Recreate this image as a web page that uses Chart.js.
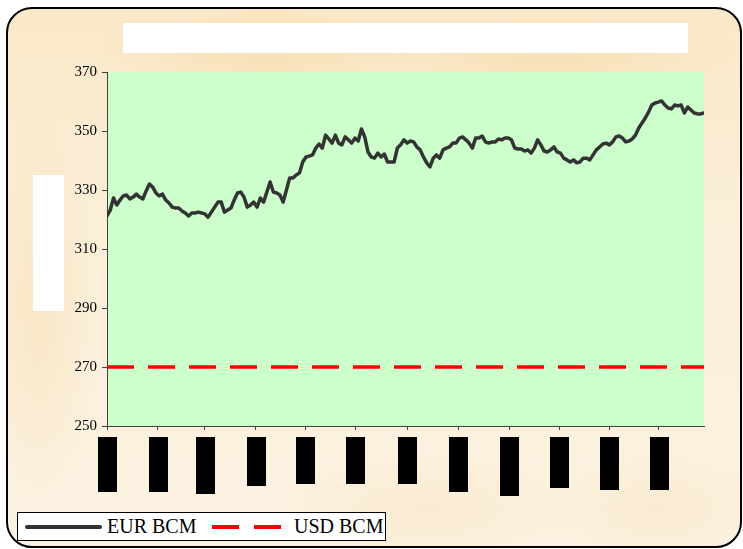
<!DOCTYPE html>
<html>
<head>
<meta charset="utf-8">
<script src="https://cdn.jsdelivr.net/npm/chart.js@4"></script>
<style>
  html, body { margin: 0; padding: 0; background: #ffffff; }
  body { width: 743px; height: 549px; position: relative; overflow: hidden; }
  #frame {
    position: absolute; left: 6px; top: 7px; width: 736px; height: 541px;
    box-sizing: border-box; border: 2px solid #000; border-radius: 26px;
    background:
      radial-gradient(ellipse 170px 45px at 260px 40px, rgba(246,214,158,0.55), rgba(246,214,158,0)),
      radial-gradient(ellipse 200px 45px at 540px 45px, rgba(246,214,158,0.5), rgba(246,214,158,0)),
      radial-gradient(ellipse 60px 200px at 30px 300px, rgba(246,218,170,0.45), rgba(246,218,170,0)),
      radial-gradient(ellipse 160px 60px at 420px 500px, rgba(246,222,178,0.35), rgba(246,222,178,0)),
      radial-gradient(ellipse 120px 60px at 650px 500px, rgba(246,222,178,0.35), rgba(246,222,178,0)),
      linear-gradient(#FAE8C8, #FBEFD9 40%, #FCF2E2);
  }
  #titleBox { position: absolute; left: 123px; top: 23px; width: 565px; height: 30px; background: #fff; }
  #yTitleBox { position: absolute; left: 33px; top: 175px; width: 31px; height: 136px; background: #fff; }
  #chartWrap { position: absolute; left: 0; top: 0; width: 743px; height: 549px; }
  #legend {
    position: absolute; left: 17px; top: 512px; width: 369px; height: 29px;
    box-sizing: border-box; border: 1px solid #000; background: #fff;
    font-family: "Liberation Serif", "Times New Roman", serif; font-size: 20px; line-height: 20px; color: #000;
  }
  #legend .txt { position: absolute; top: 3px; white-space: nowrap; }
  #legend .sw { position: absolute; top: 12px; height: 4px; }
</style>
</head>
<body>
<div id="frame"></div>
<div id="titleBox"></div>
<div id="yTitleBox"></div>
<div id="chartWrap"><canvas id="c" width="743" height="549"></canvas></div>
<div id="legend"></div>
<script>
// ---- data ----
const seriesNames = ['EUR BCM', 'USD BCM'];
const eurValues = [
  321.2, 323.2, 327.3, 324.9, 326.6, 328.0, 328.3, 327.0, 327.6, 328.6,
  327.6, 327.0, 329.7, 332.0, 331.0, 329.0, 328.0, 328.6, 326.6, 325.6,
  324.2, 323.9, 323.9, 322.9, 322.2, 321.2, 322.2, 322.2, 322.5, 322.2,
  321.9, 320.8, 322.5, 324.2,
  325.9, 325.9, 322.5, 323.2, 323.9, 326.6, 329.0, 329.3, 327.6, 324.2,
  324.9, 325.9, 324.2, 327.3, 325.9, 329.3, 332.7, 329.3, 329.0, 328.3,
  325.9, 330.0, 334.1, 334.1, 335.1, 335.8, 339.5, 341.2,
  341.5, 341.9, 344.2, 345.6, 344.2, 348.6, 347.3, 345.9, 348.6, 345.9,
  345.3, 348.0, 347.0, 345.9, 347.6, 346.6, 350.7, 348.0, 342.9, 341.2,
  340.8, 342.5, 341.2, 342.2, 339.5, 339.5, 339.5, 344.2,
  345.3, 347.0, 345.9, 346.6, 346.3, 344.6, 343.6, 341.2, 339.2, 337.8,
  340.8, 341.9, 340.8, 343.6, 344.2, 344.6, 345.9, 345.9, 347.6, 348.0,
  347.0, 345.9, 344.2, 347.6, 347.6, 348.3, 346.3, 345.9, 346.3, 346.3,
  347.3,
  347.0, 347.6, 347.6, 347.0, 344.2, 343.9, 343.9, 343.2, 343.6, 342.5,
  344.2, 347.0, 345.3, 343.2, 342.9, 343.6, 344.6, 342.9, 342.5, 340.8,
  340.2, 339.5, 340.2, 339.2, 339.5, 340.8, 340.8, 340.2, 341.9, 343.6,
  344.6, 345.6, 345.9, 345.3, 346.3, 348.0, 348.3, 347.6, 346.3, 346.6,
  347.3, 348.6, 351.0, 352.7, 354.4, 356.4, 358.8, 359.5, 359.8, 360.2,
  358.8, 357.8, 357.5, 358.8, 358.5, 358.8, 356.1, 358.1, 357.1, 356.1,
  355.8, 355.8, 356.1
];
const usdLevel = [270, 270];            // flat USD BCM level, first and last day
const yTickValues = [250, 270, 290, 310, 330, 350, 370];
const monthTickPositions = [0, 15.55, 30.04, 45.59, 60.70, 76.03, 91.98, 107.62, 123.27, 138.60, 153.93, 169.10];

// ---- chart ----
const lastIdx = eurValues.length - 1;
const eurPoints = eurValues.map((v, i) => ({ x: i, y: v }));
const usdPoints = [{ x: 0, y: usdLevel[0] }, { x: lastIdx, y: usdLevel[1] }];

const areaFill = {
  id: 'areaFill',
  beforeDraw(chart) {
    const { ctx, chartArea: a } = chart;
    ctx.save();
    ctx.fillStyle = '#CCFFCC';
    ctx.fillRect(a.left, a.top, a.right - a.left, a.bottom - a.top);
    ctx.restore();
  }
};
const redactedLabels = {
  id: 'redactedLabels',
  afterDraw(chart) {
    const { ctx, chartArea: a } = chart;
    const xs = chart.scales.x;
    const hs = [55, 55, 57, 49, 47, 47, 47, 55, 59, 51, 53, 53];
    ctx.save();
    ctx.fillStyle = '#000';
    xs.ticks.forEach((t, i) => {
      const px = Math.round(xs.getPixelForValue(t.value));
      ctx.fillRect(px - 9, a.bottom + 11, 19, hs[i % hs.length]);
    });
    ctx.restore();
  }
};

new Chart(document.getElementById('c'), {
  type: 'line',
  data: {
    datasets: [
      { label: seriesNames[0], data: eurPoints, borderColor: '#333333', borderWidth: 3.5,
        pointRadius: 0, tension: 0, borderJoinStyle: 'round', borderCapStyle: 'round', fill: false },
      { label: seriesNames[1], data: usdPoints, borderColor: '#FF0000', borderWidth: 3.5,
        borderDash: [27, 14], pointRadius: 0, tension: 0, fill: false }
    ]
  },
  options: {
    responsive: false,
    animation: false,
    layout: { padding: { left: 0, right: 39, top: 72, bottom: 0 } },
    plugins: { legend: { display: false }, tooltip: { enabled: false }, title: { display: false } },
    scales: {
      x: {
        type: 'linear', min: 0, max: lastIdx,
        afterBuildTicks(scale) { scale.ticks = monthTickPositions.map(v => ({ value: v })); },
        afterFit(scale) { scale.height = 123; },
        ticks: { autoSkip: false, maxRotation: 0, callback: () => '' },
        grid: { drawOnChartArea: false, drawTicks: true, tickLength: 4, color: '#404040', lineWidth: 1 },
        border: { color: '#404040', width: 1 }
      },
      y: {
        min: 250, max: 370,
        afterBuildTicks(scale) { scale.ticks = yTickValues.map(v => ({ value: v })); },
        afterFit(scale) { scale.width = 107; },
        ticks: { color: '#000', padding: 5, font: { family: 'Liberation Serif', size: 15 } },
        grid: { drawOnChartArea: false, drawTicks: true, tickLength: 5, color: '#404040', lineWidth: 1 },
        border: { color: '#404040', width: 1 }
      }
    }
  },
  plugins: [areaFill, redactedLabels]
});

// ---- legend (HTML) ----
const lg = document.getElementById('legend');
lg.innerHTML =
  '<div class="sw" style="left:7px;width:77px;background:#333;border-radius:2px"></div>' +
  '<div class="txt" style="left:89px">' + seriesNames[0] + '</div>' +
  '<div class="sw" style="left:194px;width:27px;background:#FF0000"></div>' +
  '<div class="sw" style="left:236px;width:27px;background:#FF0000"></div>' +
  '<div class="txt" style="left:276px">' + seriesNames[1] + '</div>';
</script>
</body>
</html>
